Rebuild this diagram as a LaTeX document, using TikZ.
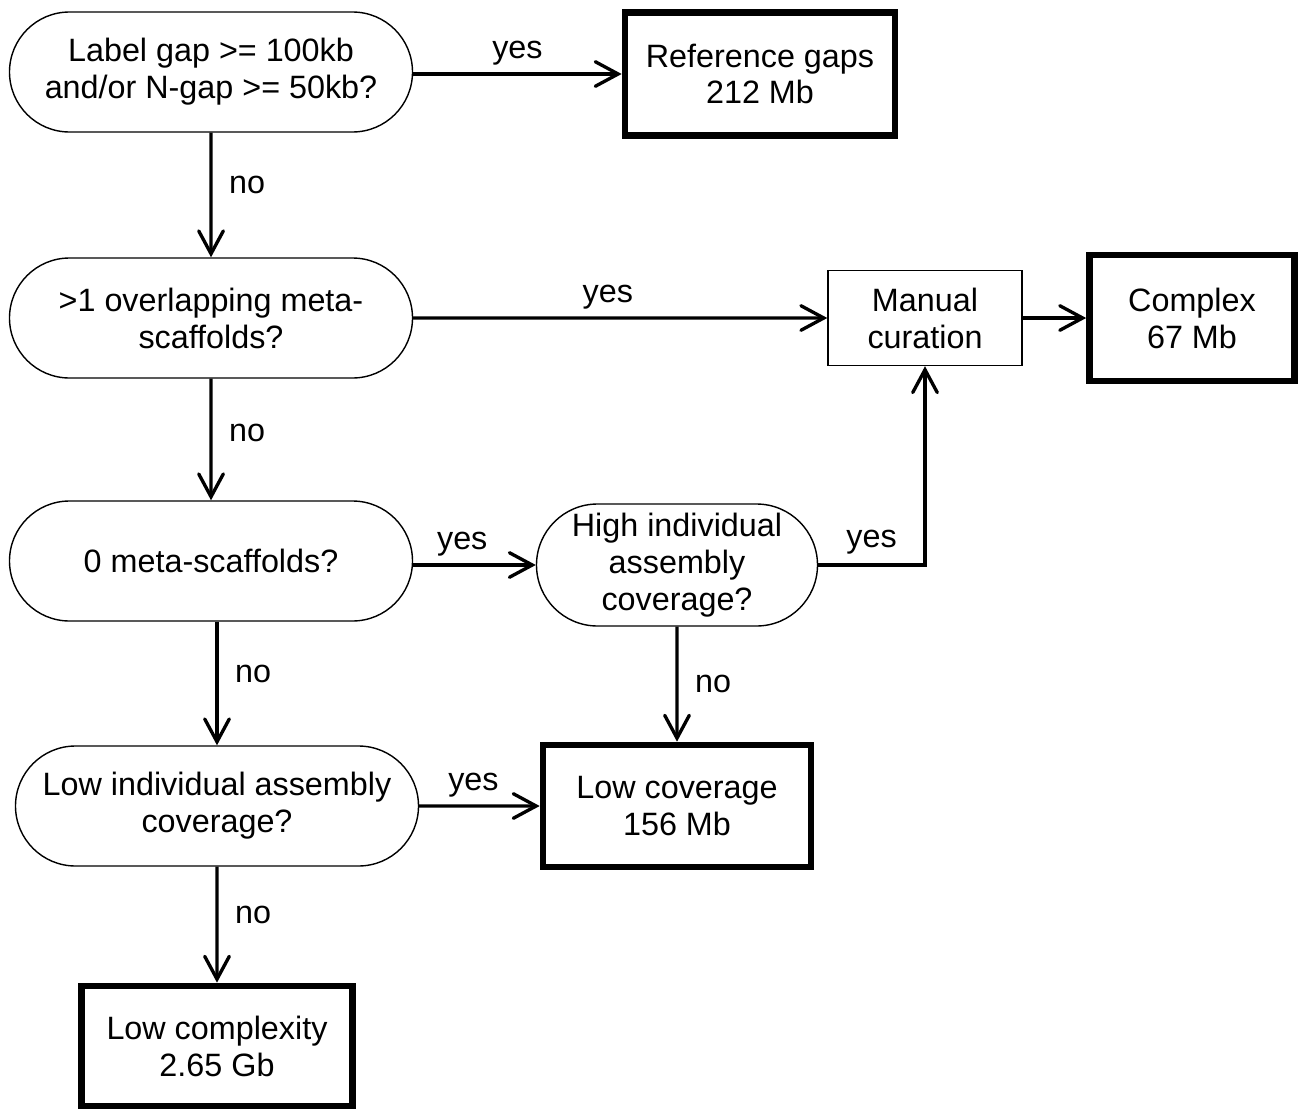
\documentclass[tikz,border=0pt]{standalone}
\usepackage{fontspec}
\setmainfont{Liberation Sans}
\usetikzlibrary{arrows.meta}
\usetikzlibrary{shapes.misc}

\begin{document}
\begin{tikzpicture}[x=0.02cm,y=-0.02cm,
  >={Straight Barb[length=13pt,width=14pt,line cap=round]},
  every node/.style={font=\fontsize{18.4}{21}\selectfont,align=center},
  ask/.style={rounded rectangle,draw,line width=0.8pt,minimum width=403*0.02cm,minimum height=120*0.02cm,inner sep=0pt},
  result/.style={rectangle,draw,line width=3.8pt,inner sep=0pt},
  flow/.style={->,line width=1.9pt}]

\useasboundingbox (0,0) rectangle (1299,1109);

\node[ask] (gap) at (211,72) {Label gap >= 100kb\\and/or N-gap >= 50kb?};
\node[result,minimum width=270*0.02cm,minimum height=123*0.02cm] (refgaps) at (760,74) {Reference gaps\\212 Mb};
\node[ask] (overlap) at (211,318) {>1 overlapping meta-\\scaffolds?};
\node[draw,line width=0.8pt,minimum width=194*0.02cm,minimum height=95*0.02cm,inner sep=0pt] (manual) at (925,318) {Manual\\curation};
\node[result,minimum width=205*0.02cm,minimum height=126*0.02cm] (complex) at (1192,318) {Complex\\67 Mb};
\node[ask] (zero) at (211,561) {0 meta-scaffolds?};
\node[ask,minimum width=281*0.02cm,minimum height=122*0.02cm] (high) at (677,565) {High individual\\assembly\\coverage?};
\node[ask] (low) at (217,806) {Low individual assembly\\coverage?};
\node[result,minimum width=268*0.02cm,minimum height=122*0.02cm] (lowcov) at (677,806) {Low coverage\\156 Mb};
\node[result,minimum width=271*0.02cm,minimum height=120*0.02cm] (lowcomp) at (217,1046) {Low complexity\\2.65 Gb};

\draw[flow] (gap.east |- refgaps) -- (refgaps.west) node[above=1pt,pos=.5]{yes};
\draw[flow] (gap) -- (overlap) node[right=6pt,pos=.42]{no};
\draw[flow] (overlap) -- (manual) node[above=1pt,pos=.47]{yes};
\draw[flow] (manual) -- (complex);
\draw[flow] (overlap) -- (zero) node[right=6pt,pos=.45]{no};
\draw[flow] (zero.east |- high) -- (high.west) node[above=1pt,pos=.4]{yes};
\draw[flow] (high.east) -| (manual.south) node[above=2pt,pos=.25]{yes};
\draw[flow] (zero.south -| low.north) -- (low.north) node[right=6pt,pos=.42]{no};
\draw[flow] (high) -- (lowcov) node[right=6pt,pos=.5]{no};
\draw[flow] (low) -- (lowcov) node[above=1pt,pos=.45]{yes};
\draw[flow] (low) -- (lowcomp) node[right=6pt,pos=.42]{no};

\end{tikzpicture}
\end{document}
